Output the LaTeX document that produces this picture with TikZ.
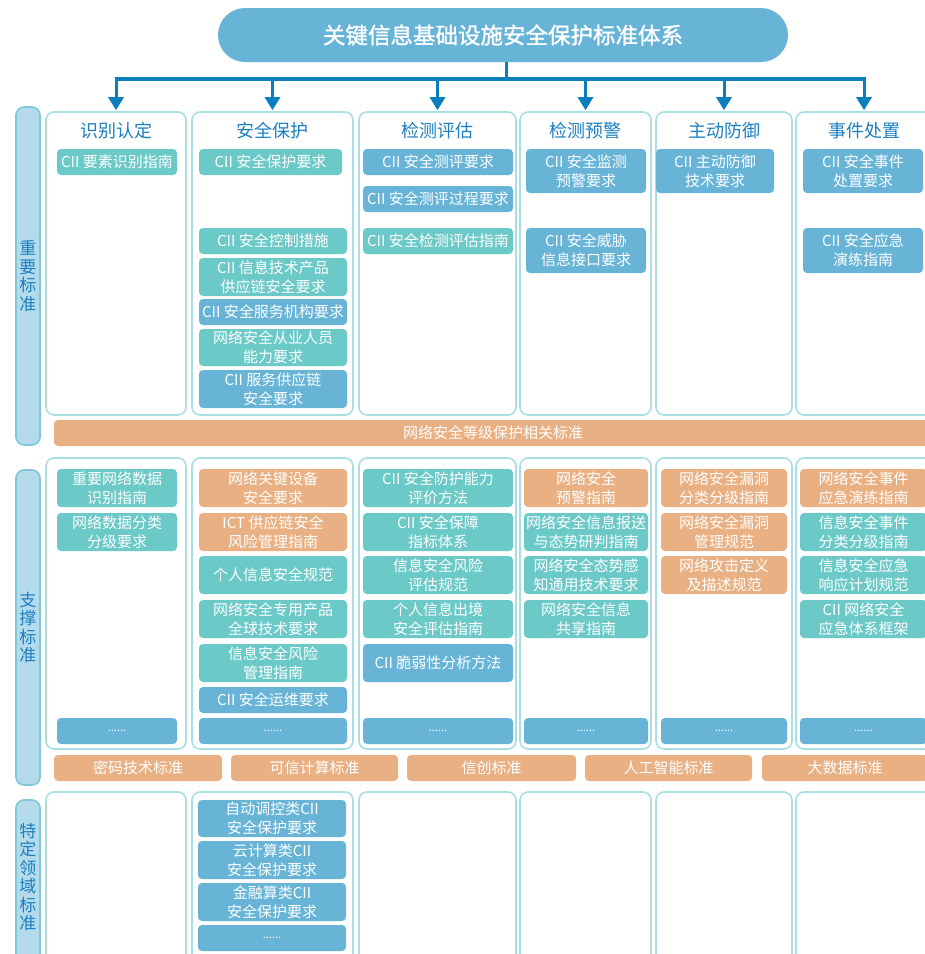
\documentclass[tikz,border=0pt]{standalone}
\usepackage{fontspec}
\setmainfont{Noto Sans CJK SC}
\newfontfamily\titlefont[FakeBold=1.2]{Noto Sans CJK SC}
\usetikzlibrary{arrows.meta}
\definecolor{blueI}{HTML}{67B4D7}
\definecolor{tealI}{HTML}{6BC9C8}
\definecolor{orangeI}{HTML}{E8B083}
\definecolor{arrowC}{HTML}{0B7FBD}
\definecolor{headC}{HTML}{1B80BF}
\definecolor{colB}{HTML}{A9DFE3}
\definecolor{barF}{HTML}{B4DBEC}
\definecolor{barB}{HTML}{80C8D4}
\tikzset{
  itembox/.style={rounded corners=4pt, inner sep=0pt, align=center, text=white,
    font=\fontsize{15}{19}\selectfont},
  bI/.style={itembox, fill=blueI},
  tI/.style={itembox, fill=tealI},
  oI/.style={itembox, fill=orangeI},
  dotsI/.style={itembox, fill=blueI, font=\fontsize{11}{11}\selectfont},
  colbox/.style={draw=colB, line width=1.6pt, fill=white, rounded corners=8pt, inner sep=0pt},
  sidebar/.style={draw=barB, line width=1.6pt, fill=barF, rounded corners=8pt, inner sep=0pt,
    align=center, text=headC, font=\fontsize{17}{18.5}\selectfont},
  hdr/.style={text=headC, font=\fontsize{18}{20}\selectfont, inner sep=0pt},
  busline/.style={draw=arrowC, line width=4pt},
  droparrow/.style={draw=arrowC, line width=3pt, -{Triangle[width=15pt,length=13pt]}, shorten >=1pt},
}
\newcommand\itm[7]{\node[#6, minimum width={(#4-#2)*1pt}, minimum height={(#5-#3)*1pt}] (#1) at ({(#2+#4)/2},{(#3+#5)/2}) {#7};}
\begin{document}
\begin{tikzpicture}[x=1pt,y=-1pt]
\useasboundingbox (0,0) rectangle (925,954);
\clip (0,0) rectangle (925,954);
% title
\node[fill=blueI, rounded corners=27pt, minimum width=570pt, minimum height=54pt, inner sep=0pt,
  text=white, font=\fontsize{22.5}{25}\titlefont] (title) at (503,35) {关键信息基础设施安全保护标准体系};
% section column boxes
\itm{k1}{46}{112}{186}{415}{colbox}{}
\itm{k2}{192}{112}{353}{415}{colbox}{}
\itm{k3}{359}{112}{516}{415}{colbox}{}
\itm{k4}{520}{112}{651}{415}{colbox}{}
\itm{k5}{656}{112}{792}{415}{colbox}{}
\itm{k6}{796}{112}{932}{415}{colbox}{}
\itm{m1}{46}{458}{186}{749}{colbox}{}
\itm{m2}{192}{458}{353}{749}{colbox}{}
\itm{m3}{359}{458}{516}{749}{colbox}{}
\itm{m4}{520}{458}{651}{749}{colbox}{}
\itm{m5}{656}{458}{792}{749}{colbox}{}
\itm{m6}{796}{458}{932}{749}{colbox}{}
\itm{n1}{46}{792}{186}{975}{colbox}{}
\itm{n2}{192}{792}{353}{975}{colbox}{}
\itm{n3}{359}{792}{516}{975}{colbox}{}
\itm{n4}{520}{792}{651}{975}{colbox}{}
\itm{n5}{656}{792}{792}{975}{colbox}{}
\itm{n6}{796}{792}{932}{975}{colbox}{}
% side bars
\itm{s1}{16}{107}{40}{445}{sidebar}{重\\要\\标\\准}
\itm{s2}{16}{470}{40}{785}{sidebar}{支\\撑\\标\\准}
\node[draw=barB, line width=1.6pt, fill=barF, rounded corners=8pt, minimum width=24pt, minimum height=190pt, inner sep=0pt] (s3) at (28,895) {};
\node[text=headC, align=center, font=\fontsize{17}{18.5}\selectfont, inner sep=0pt] (s3t) at (28,877) {特\\定\\领\\域\\标\\准};
% connectors
\coordinate (tb) at (506,62);
\coordinate (bm) at (506,79);
\coordinate (bl) at (114.5,79);
\coordinate (br) at (865.5,79);
\draw[draw=arrowC, line width=3pt] (tb) -- (bm);
\draw[busline] (bl) -- (br);
\foreach \k in {k1,k2,k3,k4,k5,k6}{
  \draw[droparrow] (\k.north |- bm) -- (\k.north);
}
% headers
\node[hdr] (h1) at (116,131) {识别认定};
\node[hdr] (h2) at (272.5,131) {安全保护};
\node[hdr] (h3) at (437.5,131) {检测评估};
\node[hdr] (h4) at (585.5,131) {检测预警};
\node[hdr] (h5) at (724,131) {主动防御};
\node[hdr] (h6) at (864,131) {事件处置};
% section 1 items
\itm{a11}{57}{149}{177}{175}{tI}{CII 要素识别指南}
\itm{a21}{199}{149}{342}{175}{tI}{CII 安全保护要求}
\itm{a22}{199}{228}{347}{254}{tI}{CII 安全控制措施}
\itm{a23}{199}{258}{347}{296}{tI}{CII 信息技术产品\\供应链安全要求}
\itm{a24}{199}{299}{347}{325}{bI}{CII 安全服务机构要求}
\itm{a25}{199}{329}{347}{366}{tI}{网络安全从业人员\\能力要求}
\itm{a26}{199}{370}{347}{408}{bI}{CII 服务供应链\\安全要求}
\itm{a31}{363}{149}{513}{175}{bI}{CII 安全测评要求}
\itm{a32}{363}{186}{513}{212}{bI}{CII 安全测评过程要求}
\itm{a33}{363}{228}{513}{254}{tI}{CII 安全检测评估指南}
\itm{a41}{526}{149}{646}{193}{bI}{CII 安全监测\\预警要求}
\itm{a42}{526}{228}{646}{273}{bI}{CII 安全威胁\\信息接口要求}
\itm{a51}{656}{149}{774}{193}{bI}{CII 主动防御\\技术要求}
\itm{a61}{803}{149}{923}{193}{bI}{CII 安全事件\\处置要求}
\itm{a62}{803}{228}{923}{273}{bI}{CII 安全应急\\演练指南}
\itm{ob1}{54}{420}{932}{446}{oI}{网络安全等级保护相关标准}
% section 2 items
\itm{b11}{57}{469}{177}{507}{tI}{重要网络数据\\识别指南}
\itm{b12}{57}{513}{177}{551}{tI}{网络数据分类\\分级要求}
\itm{b1d}{57}{718}{177}{744}{dotsI}{......}
\itm{b21}{199}{469}{347}{507}{oI}{网络关键设备\\安全要求}
\itm{b22}{199}{513}{347}{551}{oI}{ICT 供应链安全\\风险管理指南}
\itm{b23}{199}{556}{347}{594}{tI}{个人信息安全规范}
\itm{b24}{199}{600}{347}{638}{tI}{网络安全专用产品\\全球技术要求}
\itm{b25}{199}{644}{347}{682}{tI}{信息安全风险\\管理指南}
\itm{b26}{199}{687}{347}{713}{bI}{CII 安全运维要求}
\itm{b2d}{199}{718}{347}{744}{dotsI}{......}
\itm{b31}{363}{469}{513}{507}{tI}{CII 安全防护能力\\评价方法}
\itm{b32}{363}{513}{513}{551}{tI}{CII 安全保障\\指标体系}
\itm{b33}{363}{556}{513}{594}{tI}{信息安全风险\\评估规范}
\itm{b34}{363}{600}{513}{638}{tI}{个人信息出境\\安全评估指南}
\itm{b35}{363}{644}{513}{682}{bI}{CII 脆弱性分析方法}
\itm{b3d}{363}{718}{513}{744}{dotsI}{......}
\itm{b41}{524}{469}{648}{507}{oI}{网络安全\\预警指南}
\itm{b42}{524}{513}{648}{551}{tI}{网络安全信息报送\\与态势研判指南}
\itm{b43}{524}{556}{648}{594}{tI}{网络安全态势感\\知通用技术要求}
\itm{b44}{524}{600}{648}{638}{tI}{网络安全信息\\共享指南}
\itm{b4d}{524}{718}{648}{744}{dotsI}{......}
\itm{b51}{661}{469}{787}{507}{oI}{网络安全漏洞\\分类分级指南}
\itm{b52}{661}{513}{787}{551}{oI}{网络安全漏洞\\管理规范}
\itm{b53}{661}{556}{787}{594}{oI}{网络攻击定义\\及描述规范}
\itm{b5d}{661}{718}{787}{744}{dotsI}{......}
\itm{b61}{800}{469}{927}{507}{oI}{网络安全事件\\应急演练指南}
\itm{b62}{800}{513}{927}{551}{tI}{信息安全事件\\分类分级指南}
\itm{b63}{800}{556}{927}{594}{tI}{信息安全应急\\响应计划规范}
\itm{b64}{800}{600}{927}{638}{tI}{CII 网络安全\\应急体系框架}
\itm{b6d}{800}{718}{927}{744}{dotsI}{......}
% bottom orange bars
\itm{o1}{54}{755}{222}{781}{oI}{密码技术标准}
\itm{o2}{231}{755}{398}{781}{oI}{可信计算标准}
\itm{o3}{407}{755}{576}{781}{oI}{信创标准}
\itm{o4}{585}{755}{752}{781}{oI}{人工智能标准}
\itm{o5}{762}{755}{928}{781}{oI}{大数据标准}
% section 3 items
\itm{c21}{198}{800}{346}{837}{bI}{自动调控类CII\\安全保护要求}
\itm{c22}{198}{841}{346}{879}{bI}{云计算类CII\\安全保护要求}
\itm{c23}{198}{883}{346}{921}{bI}{金融算类CII\\安全保护要求}
\itm{c2d}{198}{925}{346}{951}{dotsI}{......}
\end{tikzpicture}
\end{document}
